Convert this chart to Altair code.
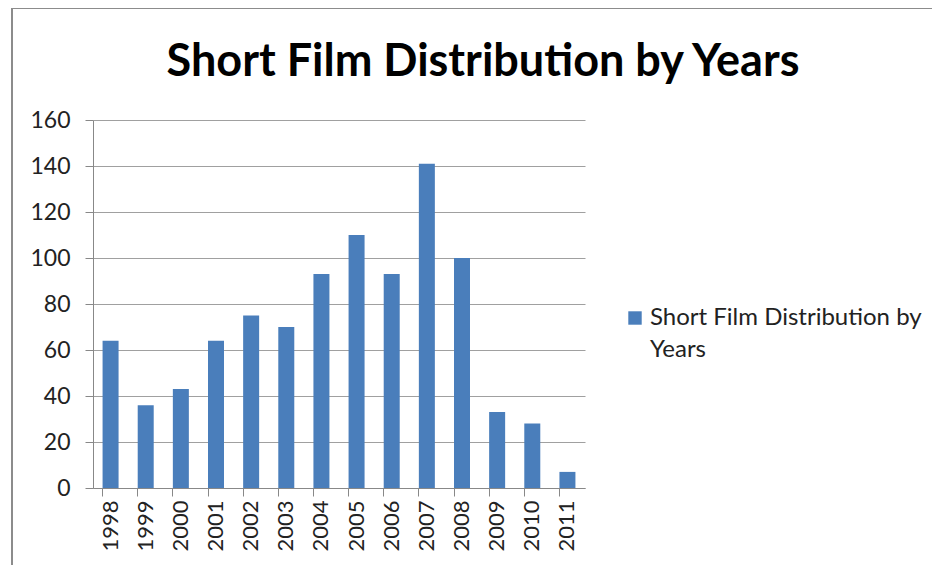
import altair as alt
import pandas as pd

years = ["1998", "1999", "2000", "2001", "2002", "2003", "2004",
         "2005", "2006", "2007", "2008", "2009", "2010", "2011"]
counts = [64, 36, 43, 64, 75, 70, 93, 110, 93, 141, 100, 33, 28, 7]
series_name = "Short Film Distribution by Years"
legend_lines = ["Short Film Distribution by", "Years"]
y_ticks = [0, 20, 40, 60, 80, 100, 120, 140, 160]

df = pd.DataFrame({"Year": years, "Count": counts, "Series": series_name})
legend_df = pd.DataFrame({"Series": [series_name]})

FONT = "Lato"
BLUE = "#4a7ebb"
color_scale = alt.Scale(domain=[series_name], range=[BLUE])

# chart-area frame (grey border as in the spreadsheet chart)
frame = alt.Chart(legend_df).mark_rect(fillOpacity=0, stroke="#8c8c8c", strokeWidth=2).encode(
    x=alt.value(-81), x2=alt.value(900), y=alt.value(-112), y2=alt.value(480),
)

bars = alt.Chart(df).mark_bar(size=16).encode(
    x=alt.X("Year:N", sort=years, title=None,
            scale=alt.Scale(paddingInner=0.55, paddingOuter=0.275),
            axis=alt.Axis(labelAngle=-90, labelAlign="right", labelBaseline="middle",
                          labelFontSize=22, labelFont=FONT, labelColor="#222",
                          labelPadding=4, tickSize=8, bandPosition=0, tickColor="#888",
                          domainColor="#888", grid=False)),
    y=alt.Y("Count:Q", title=None,
            scale=alt.Scale(domain=[0, 160], nice=False),
            axis=alt.Axis(values=y_ticks, labelFontSize=23, labelFont=FONT, labelColor="#222",
                          labelPadding=15, tickSize=8, tickColor="#888", domainColor="#888",
                          gridColor="#a0a0a0", gridWidth=1.2)),
    color=alt.Color("Series:N", scale=color_scale, legend=None),
)

# legend (symbol + wrapped label), placed to the right of the plot
legend_symbol = alt.Chart(legend_df).mark_square(size=180, opacity=1).encode(
    x=alt.value(542), y=alt.value(198),
    color=alt.Color("Series:N", scale=color_scale, legend=None),
)
legend_label = alt.Chart(legend_df).mark_text(
    align="left", baseline="middle", font=FONT, fontSize=24, lineHeight=32, color="#222"
).encode(
    x=alt.value(557), y=alt.value(198), text=alt.value(legend_lines),
)

chart = alt.layer(frame, bars, legend_symbol, legend_label).properties(
    width=492,
    height=368,
    title=alt.TitleParams(series_name, fontSize=45, font=FONT, fontWeight="bold",
                          color="#000", anchor="middle", frame="group",
                          dx=144, dy=102, offset=24),
    padding={"left": 85, "top": 112, "right": 347, "bottom": 77},
    autosize=alt.AutoSizeParams(type="none"),
).configure_view(stroke=None)

chart.save("out.html", embed_options={"renderer": "svg", "actions": False})
